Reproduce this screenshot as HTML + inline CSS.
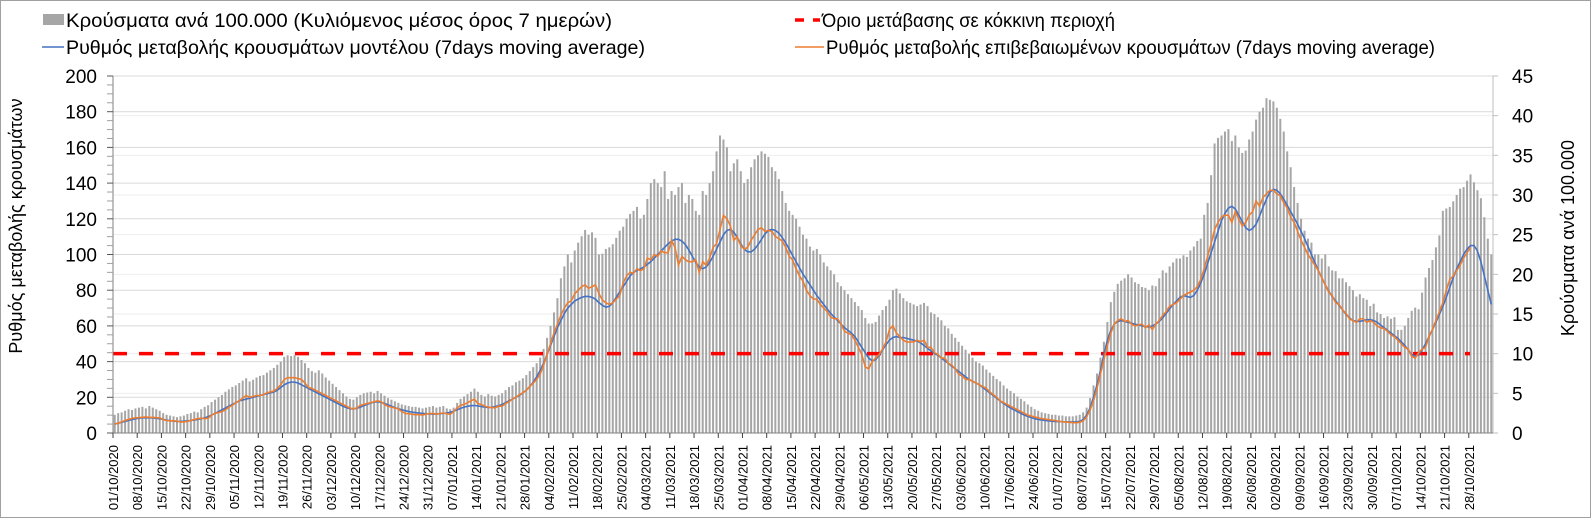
<!DOCTYPE html>
<html><head><meta charset="utf-8">
<style>
html,body{margin:0;padding:0;background:#fff;}
svg{display:block;font-family:"Liberation Sans",Arial,sans-serif;}
</style></head>
<body>
<svg id="chart" width="1591" height="518" viewBox="0 0 1591 518" xmlns="http://www.w3.org/2000/svg">
<rect x="0.5" y="0.5" width="1590" height="517" fill="#fff" stroke="#a0a0a0"/>
<g id="legend">
  <g>
    <rect x="43" y="14" width="21" height="11" fill="#a6a6a6"/>
    <text x="66" y="27" font-size="19.5" textLength="546" lengthAdjust="spacingAndGlyphs">Κρούσματα ανά 100.000 (Κυλιόμενος μέσος όρος 7 ημερών)</text>
  </g>
  <g>
    <line x1="42" y1="47" x2="64" y2="47" stroke="#4472c4" stroke-width="1.5"/>
    <text x="66" y="54" font-size="19.5" textLength="579" lengthAdjust="spacingAndGlyphs">Ρυθμός μεταβολής κρουσμάτων μοντέλου (7days moving average)</text>
  </g>
  <g>
    <line x1="795" y1="20" x2="820" y2="20" stroke="#ff0000" stroke-width="3.5" stroke-dasharray="9,9"/>
    <text x="822" y="27" font-size="19.5" textLength="293" lengthAdjust="spacingAndGlyphs">Όριο μετάβασης σε κόκκινη περιοχή</text>
  </g>
  <g>
    <line x1="795" y1="47" x2="824" y2="47" stroke="#ed7d31" stroke-width="1.5"/>
    <text x="826" y="54" font-size="19.5" textLength="609" lengthAdjust="spacingAndGlyphs">Ρυθμός μεταβολής επιβεβαιωμένων κρουσμάτων (7days moving average)</text>
  </g>
</g>
<text transform="translate(22,226) rotate(-90)" text-anchor="middle" font-size="18">Ρυθμός μεταβολής κρουσμάτων</text>
<text transform="translate(1574,238) rotate(-90)" text-anchor="middle" font-size="18">Κρούσματα ανά 100.000</text>
<g id="grid"></g>
<g id="bars"></g>
<g id="lines"></g>
<g id="axes"></g>
</svg>
<script>
const startDate = [2020, 9, 1];
const cases = [
2.3,2.5,2.6,2.8,3.0,2.9,3.1, 3.2,3.3,3.1,3.4,3.2,3.0,2.8, 2.5,2.3,2.2,2.1,2.0,2.1,2.2,
2.4,2.5,2.7,2.6,3.0,3.3,3.5, 3.9,4.2,4.5,4.8,5.2,5.5,5.8, 6.0,6.3,6.6,6.9,6.5,6.7,7.0,
7.2,7.3,7.6,7.9,8.2,8.6,9.0, 9.6,9.8,9.7,9.8,9.6,9.2,8.8, 8.2,7.8,7.6,7.9,7.5,7.0,6.6,
6.2,5.8,5.4,5.0,4.6,4.3,4.2, 4.5,4.8,5.0,5.1,5.2,5.0,5.3, 5.0,4.7,4.4,4.2,4.0,3.8,3.6,
3.5,3.4,3.3,3.3,3.2,3.1,3.2, 3.3,3.4,3.2,3.3,3.4,3.1,3.0, 3.2,3.8,4.3,4.6,4.9,5.2,5.6,
5.2,4.8,4.6,4.9,4.7,4.6,4.8, 5.0,5.4,5.8,6.0,6.4,6.6,6.9, 7.3,7.8,8.3,8.8,9.5,10.6,12.0,
13.5,15.2,17.0,19.5,21.0,22.5,21.5, 23.0,24.0,24.8,25.6,25.0,25.3,24.6, 22.5,22.6,23.2,23.4,23.8,24.6,25.5,
26.0,27.0,27.6,28.0,28.5,27.0,27.5, 29.5,31.5,32.0,31.5,31.0,33.0,29.5, 30.5,30.0,31.0,31.5,29.0,30.0,29.5,
28.0,27.5,30.5,30.0,31.5,33.0,35.5, 37.5,37.0,36.0,33.0,34.0,34.5,33.0, 31.5,32.0,33.5,34.5,35.0,35.5,35.2,
34.8,33.5,33.0,32.0,30.5,29.0,28.0, 27.5,27.0,26.0,25.0,24.5,23.5,23.0, 23.2,22.5,21.5,21.0,20.5,20.0,19.0,
18.5,18.0,17.5,17.0,16.5,16.0,15.5, 14.5,13.8,13.8,14.0,14.8,15.5,16.0, 16.8,18.0,18.2,17.6,17.0,16.6,16.4,
16.2,16.0,16.2,16.4,16.0,15.2,15.0, 14.6,14.2,13.5,13.2,12.5,12.0,11.5, 11.0,10.5,10.0,9.5,9.0,8.8,8.5,
8.0,7.6,7.2,6.8,6.5,6.0,5.6, 5.3,5.0,4.6,4.3,4.0,3.6,3.3, 3.0,2.8,2.6,2.5,2.4,2.3,2.3,
2.2,2.2,2.1,2.1,2.1,2.2,2.3, 2.6,3.2,4.4,6.0,7.5,9.5,11.5, 14.0,16.5,17.8,18.8,19.2,19.5,20.0,
19.6,19.0,18.8,18.4,18.3,18.0,18.6, 18.5,19.5,20.5,20.2,21.0,21.5,22.0, 22.0,22.4,22.2,23.0,23.5,24.2,24.5,
27.5,29.0,32.5,36.5,37.2,37.5,38.0, 38.3,36.8,37.5,36.0,35.3,35.6,37.0, 38.0,39.5,40.5,41.0,42.2,42.0,41.8,
41.0,39.6,38.0,35.5,33.5,31.0,29.0, 27.0,25.5,24.5,24.0,22.5,22.5,22.0, 22.5,21.0,20.5,20.4,19.5,19.5,19.0,
18.5,18.0,17.2,17.5,17.0,16.8,16.0, 16.3,15.2,15.0,14.5,14.7,14.4,14.6, 13.0,13.0,13.5,14.5,15.4,15.8,15.6,
17.7,19.6,20.8,21.8,23.4,24.9,28.0, 28.3,28.5,29.2,30.0,30.8,31.0,31.8, 32.6,31.6,30.6,29.6,27.2,24.5,22.5
];
const modelRate = [
5,5.5,6,6.5,7,7.5,8, 8.2,8.5,8.6,8.5,8.4,8.2,8, 7.6,7.2,6.9,6.7,6.5,6.5,6.6,
6.8,7,7.3,7.6,8,8.5,9.2, 10,11,12,13,14,15,16, 17,18,18.5,19,19.5,20,20.5,
21,21.5,22,22.5,23,24,25.5, 27,28,28.5,28.5,28,27,26, 25,24,23,22,21,20,19,
18,17,16,15,14.2,13.6,13.5, 13.8,14.5,15.3,16,16.8,17.3,17.5, 17.2,16.5,15.8,15,14.2,13.6,13,
12.5,12,11.7,11.4,11.2,11,10.8, 10.7,10.6,10.6,10.8,11,11.2,11.6, 12.2,13,13.8,14.5,15,15.3,15.4,
15.2,14.8,14.5,14.3,14.4,14.8,15.3, 16,17,18,19,20,21,22.5, 24,26,28.5,31.5,35,39,44,
49,54,59,63,67,70,72, 74,75,76,76.5,76.5,76,75, 73,71.5,70.5,71,73,76,79,
82,85,88,90,91,92,93, 94.5,96,98,100,102,104,106, 107.5,108.5,108.5,107.5,105.5,102.5,99,
95.5,93,92,93,95.5,99,103, 107,111,113.5,114,112.5,109.5,106, 103,101.5,101.5,103,105.5,108.5,111.5,
113.5,114,113.5,112,109.5,106.5,103, 99.5,96,92.5,89,86,83,80, 77,74.5,72,69.5,67,65,63,
61,59,57.5,56,54,51,48, 45,42,40.5,41,43.5,46.5,49.5, 52,53.5,54,53.5,53.5,53,52.5,
52,51.5,50.5,49,47.5,46,44.5, 43.5,42,40.5,39,37.5,36,34.5, 33,31.5,30,29,28,27,25.5,
24,22.5,21,19.5,18,16.5,15.3, 14,13,12,11,10,9.3,8.6, 8,7.6,7.3,7,6.8,6.6,6.5,
6.4,6.3,6.2,6.2,6.2,6.3,6.5, 7.5,10,14,20,27,35,44, 52,57.5,61,62.5,63,62.5,62,
61.5,61,60.5,60,59.5,59.5,60, 61,62.5,64.5,67,69.5,72,74, 76,77,76.5,76,77,80,84,
89,95,101,107,113,119,123, 126,127,125.5,122,118.5,115,113.5, 114.5,117,121.5,126.5,131,135,136.5,
136,134,131,127.5,124,120.5,117, 113,109,104.5,100,95.5,91,87, 83,79.5,76.5,74,71.5,69,66.5,
64.5,63,62.5,62.5,63,63.5,63.5, 63,62,60.5,59,57.5,56,54.5, 53,51,49,46.5,44,43,44,
46.5,50,54,58,62,66.5,71, 76,81.5,87,92,96,100,103, 105,105,102,96,88,80,72
];
const confirmedRate = [
5,5.5,6.2,7,7.6,8.2,8.5, 8.6,8.8,9,8.7,8.8,8.6,8.5, 7.5,7,6.8,6.8,6.6,6.2,6.2,
6.5,7,7.6,8,8.3,8.1,8.2, 10,11,11.5,12,13,14.5,15.5, 17,18,19.5,21,20,20.5,21,
21,21.5,22.5,23,23.5,25,27, 30,31,31,31,30.5,30,28, 25.5,25,24,23,22,21,20,
19,18,17,16,15,14,13.5, 14,15.5,16,16.5,17,17.5,18, 17.5,16,15,14.5,14,13.5,12,
11,10.8,10.5,10.2,10.4,10,10.6, 10.8,11,10.5,11,11.2,10.8,10.5, 12,14,15.5,16,17,18,19,
16.5,16,15,14.5,14.2,14.2,15, 15,16.5,17.5,19,20,21.5,22.5, 24,26,28,30,33,38,44,
50,56,61,66,70,73,74, 78,80,82,83,81,82,83, 78,74.5,73,72,73,75,77,
84,88,90,89.5,92,91,92, 98,97,100,99,102,101,101, 108,104,94,99,97,96,96,
97,90,96,94,98,104,106, 114,122,120,116,108,110,105, 103,104,108,111,114,115,113,
113.5,113,110,109,107.5,104,99, 97,92,88,85,80,77,75, 75,72,70,68,65,64,64,
61,57,56,55,52,48,44, 37,36,40,42,44,47,51, 58,60,56,54,52,51,51,
51,52,51,52,48,48,45, 44,42,42,39,38,36,33, 32,30,30,29,28,27,26,
25,23,21.5,20,18,17,16, 15,14,13,12,11,10,9.5, 9,8.5,8,7.8,7.5,7.2,7,
6.5,6.3,6.2,6.0,5.8,5.8,6, 6.8,9,13,18,25,33,41, 49,56,61,63,64,62.5,63,
61,60,60.5,61,59,60.5,58, 61,63,66,68,71,72,73, 75,77,78,79,80,82,86,
92,99,106,114,118,121,122, 122,118,124,120,116,118,122, 124,130,127,132,134,136,136,
134,133,129,126,121,118,113, 108,104,100,97,94,91,87, 83,79,77,73,72,69,67,
64,63,62,64,64,62,63, 62,60,59,58.5,57,55,54, 52,50,48,47,43,42,45,
47,48,54,58,63,68,73, 80,86,88,91,94,98,101, 104
];
const redThreshold = 10;
const leftTicks = [0,20,40,60,80,100,120,140,160,180,200];
const rightTicks = [0,5,10,15,20,25,30,35,40,45];

const NS = "http://www.w3.org/2000/svg";
const X0 = 113, X1 = 1493, Y0 = 433, YT = 76;
const N = cases.length;
const step = (X1 - X0) / N;
function xDay(i){ return X0 + step * (i + 0.5); }
function xTick(i){ return X0 + step * i; }
function yL(v){ return Y0 - (v / 200) * (Y0 - YT); }
function yR(v){ return Y0 - (v / 45) * (Y0 - YT); }
function mk(tag, attrs, parent){
  const e = document.createElementNS(NS, tag);
  for (const k in attrs) e.setAttribute(k, attrs[k]);
  parent.appendChild(e); return e;
}
const grid = document.getElementById('grid');
const bars = document.getElementById('bars');
const lines = document.getElementById('lines');
const axes = document.getElementById('axes');

rightTicks.forEach(function(t){
  const g = mk('line', {x1:X0, x2:X1, y1:yR(t), y2:yR(t), stroke:'#eeeeee', 'stroke-width':1}, grid);
  
  
});
leftTicks.forEach(function(t){
  const g = mk('line', {x1:X0, x2:X1, y1:yL(t), y2:yL(t), stroke:'#d9d9d9', 'stroke-width':1}, grid);
  
  
});

cases.forEach(function(v, i){
  const b = mk('rect', {x: xDay(i) - 1, y: yR(v), width: 2, height: Y0 - yR(v), fill: '#a6a6a6'}, bars);
  
  
});

function path(arr){
  return arr.map(function(v, i){ return (i ? 'L' : 'M') + xDay(i).toFixed(2) + ',' + yL(v).toFixed(2); }).join('');
}
const red = mk('line', {x1: X0, x2: 1470, y1: yR(redThreshold), y2: yR(redThreshold), stroke:'#ff0000', 'stroke-width':3.5, 'stroke-dasharray':'14,12'}, lines);


const bl = mk('path', {d: path(modelRate), fill:'none', stroke:'#4472c4', 'stroke-width':1.6}, lines);


const ol = mk('path', {d: path(confirmedRate), fill:'none', stroke:'#ed7d31', 'stroke-width':1.6}, lines);



const la = mk('line', {x1:X0, x2:X0, y1:YT, y2:Y0, stroke:'#808080', 'stroke-width':1}, axes);


const ra = mk('line', {x1:X1, x2:X1, y1:YT, y2:Y0, stroke:'#bfbfbf', 'stroke-width':1}, axes);


const xa = mk('line', {x1:X0, x2:X1, y1:Y0, y2:Y0, stroke:'#808080', 'stroke-width':1}, axes);



leftTicks.forEach(function(t){
  const tk = mk('line', {x1:X0-6, x2:X0, y1:yL(t), y2:yL(t), stroke:'#595959'}, axes);
  
  
  const tx = mk('text', {x: X0 - 16, y: yL(t) + 7, 'text-anchor':'end', 'font-size':19}, axes);
  tx.textContent = t;
  
  
});
for (let t = 5; t < 200; t += 5) {
  if (t % 20 === 0) continue;
  const tk = mk('line', {x1:X0-6, x2:X0, y1:yL(t), y2:yL(t), stroke:'#a0a0a0'}, axes);
  
  
}
rightTicks.forEach(function(t){
  const tk = mk('line', {x1:X1, x2:X1+5, y1:yR(t), y2:yR(t), stroke:'#bfbfbf'}, axes);
  
  
  const tx = mk('text', {x: X1 + 19, y: yR(t) + 7, 'font-size':19}, axes);
  tx.textContent = t;
  
  
});

function pad(n){ return (n < 10 ? '0' : '') + n; }
for (let i = 0; i < N; i += 7) {
  const d = new Date(Date.UTC(startDate[0], startDate[1], startDate[2] + i));
  const label = pad(d.getUTCDate()) + '/' + pad(d.getUTCMonth() + 1) + '/' + d.getUTCFullYear();
  const x = xTick(i);
  const tk = mk('line', {x1:x, x2:x, y1:Y0, y2:Y0+5, stroke:'#404040'}, axes);
  
  
  const tx = mk('text', {transform: 'translate(' + (x + 5) + ',' + (Y0 + 12) + ') rotate(-90)', 'text-anchor':'end', 'font-size':13}, axes);
  tx.textContent = label;
  
  
}
</script>
</body></html>
